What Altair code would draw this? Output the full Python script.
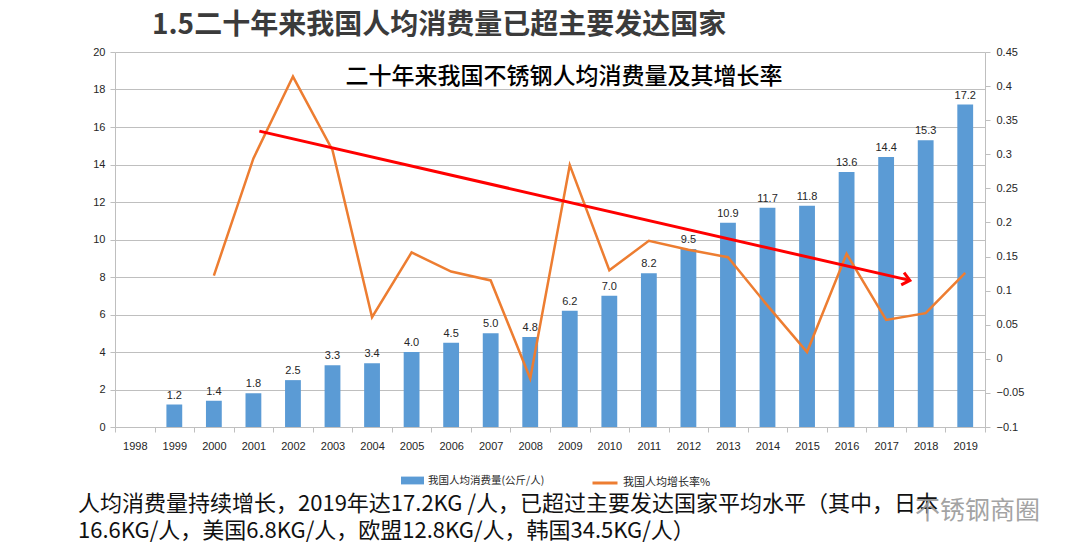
import altair as alt
import pandas as pd

# ---------------- data ----------------
years = [str(y) for y in range(1998, 2020)]
consumption_years = [str(y) for y in range(1999, 2020)]
consumption = [1.2, 1.4, 1.8, 2.5, 3.3, 3.4, 4.0, 4.5, 5.0, 4.8, 6.2, 7.0,
               8.2, 9.5, 10.9, 11.7, 11.8, 13.6, 14.4, 15.3, 17.2]
growth_years = [str(y) for y in range(2000, 2020)]
growth = [0.122, 0.294, 0.414, 0.306, 0.061, 0.156, 0.128, 0.115, -0.029, 0.284,
          0.130, 0.173, 0.160, 0.149, 0.078, 0.010, 0.154, 0.057, 0.067, 0.126]
trend_start = [2001.15, 0.334]
trend_end = [2017.6, 0.115]
left_ticks = [0, 2, 4, 6, 8, 10, 12, 14, 16, 18, 20]
right_ticks = [-0.1, -0.05, 0, 0.05, 0.1, 0.15, 0.2, 0.25, 0.3, 0.35, 0.4, 0.45]

series_bar = "我国人均消费量(公斤/人)"
series_line = "我国人均增长率%"
main_title = "1.5二十年来我国人均消费量已超主要发达国家"
chart_title = "二十年来我国不锈钢人均消费量及其增长率"
note_lines = ["人均消费量持续增长，2019年达17.2KG /人，已超过主要发达国家平均水平（其中，日本",
              "16.6KG/人，美国6.8KG/人，欧盟12.8KG/人，韩国34.5KG/人）"]
watermark = "不锈钢商圈"

W, H = 870, 375
AX = "#bfbfbf"
LBL = "#262626"
FONT = "Liberation Sans"
CJK = "Noto Sans CJK SC"

df_c = pd.DataFrame({"year": consumption_years, "value": consumption, "series": series_bar})
df_g = pd.DataFrame({"year": growth_years, "rate": growth, "series": series_line})
df_t = pd.DataFrame({"x": [trend_start[0]], "y": [trend_start[1]],
                     "x2": [trend_end[0]], "y2": [trend_end[1]]})

xband = alt.Scale(type="band", domain=years, paddingInner=0, paddingOuter=0)
yleft = alt.Scale(domain=[0, 20], nice=False, zero=False)
yright = alt.Scale(domain=[-0.1, 0.45], nice=False, zero=False)
xq = alt.Scale(domain=[1997.5, 2019.5], nice=False, zero=False)

x_axis = alt.Axis(title=None, labelAngle=0, tickBand="extent", tickSize=5, tickColor=AX,
                  domainColor=AX, labelFont=FONT, labelFontSize=11, labelColor=LBL,
                  labelPadding=8, grid=False)
yl_axis = alt.Axis(title=None, values=left_ticks, grid=True, gridColor=AX, tickColor=AX,
                   tickSize=5, domainColor=AX, labelFont=FONT, labelFontSize=11,
                   labelColor=LBL, labelPadding=5)
yr_axis = alt.Axis(title=None, orient="right", values=right_ticks, grid=False,
                   labelExpr="format(datum.value, '.2~f')", tickColor=AX, tickSize=5,
                   domainColor=AX, labelFont=FONT, labelFontSize=11, labelColor=LBL,
                   labelPadding=6)

bars = alt.Chart(df_c).mark_bar(width=alt.RelativeBandSize(0.4)).encode(
    x=alt.X("year:O", scale=xband, axis=x_axis),
    y=alt.Y("value:Q", scale=yleft, axis=yl_axis),
    color=alt.Color("series:N",
                    scale=alt.Scale(domain=[series_bar], range=["#5b9bd5"]),
                    legend=alt.Legend(title=None, orient="none", legendX=286, legendY=417,
                                      symbolType="M-1,-0.34H1V0.34H-1Z", symbolSize=529,
                                      symbolStrokeWidth=0, labelFont=CJK, labelFontSize=10.5,
                                      labelColor=LBL, padding=0, labelOffset=4)),
)
bar_labels = alt.Chart(df_c).mark_text(baseline="bottom", dy=-4, font=FONT, fontSize=11,
                                       color=LBL).encode(
    x=alt.X("year:O", scale=xband, axis=x_axis, bandPosition=0.5),
    y=alt.Y("value:Q", scale=yleft, axis=yl_axis),
    text=alt.Text("value:Q", format=".1f"),
)
left = alt.layer(bars, bar_labels)

line = alt.Chart(df_g).mark_line(strokeWidth=2.5).encode(
    x=alt.X("year:O", scale=xband, axis=None, bandPosition=0.5),
    y=alt.Y("rate:Q", scale=yright, axis=yr_axis),
    color=alt.Color("series:N",
                    scale=alt.Scale(domain=[series_line], range=["#ed7d31"]),
                    legend=alt.Legend(title=None, orient="none", legendX=476, legendY=417,
                                      symbolType="stroke", symbolSize=625,
                                      symbolStrokeWidth=3, labelFont=CJK, labelFontSize=11,
                                      labelColor=LBL, padding=0, labelOffset=4)),
)

trend = alt.Chart(df_t).mark_rule(color="#ff0000", strokeWidth=3).encode(
    x=alt.X("x:Q", scale=xq, axis=None), x2="x2:Q",
    y=alt.Y("y:Q", scale=yright, axis=None), y2="y2:Q",
)
arrow_head = alt.Chart(df_t).mark_point(shape="M-1,-0.85L0,0L-1,0.85", filled=False,
                                        size=220, angle=13, color="#ff0000",
                                        strokeWidth=3, opacity=1).encode(
    x=alt.X("x2:Q", scale=xq, axis=None),
    y=alt.Y("y2:Q", scale=yright, axis=None),
)

def label(text, x, y, **kw):
    return alt.Chart(pd.DataFrame({"t": [text]})).mark_text(**kw).encode(
        x=alt.value(x), y=alt.value(y), text="t:N")

title_main = label(main_title, 37, -26, align="left", baseline="middle", font=CJK,
                   fontSize=28, fontWeight="bold", color="#3b3b3b")
title_chart = label(chart_title, 449, 25, align="center", baseline="middle", font=CJK,
                    fontSize=23, fontWeight=500, color="#000000")
note1 = label(note_lines[0], -37, 452, align="left", baseline="middle", font=CJK,
              fontSize=22, color="#111111")
note2 = label(note_lines[1], -37, 479, align="left", baseline="middle", font=CJK,
              fontSize=22, color="#111111")
wm = label(watermark, 800, 459, align="left", baseline="middle", font=CJK,
           fontSize=25, color="#9a9a9a", opacity=0.9)

chart = alt.layer(
    left, line, trend, arrow_head, title_main, title_chart, note1, note2, wm
).resolve_scale(
    x="independent", y="independent", color="independent"
).properties(
    width=W, height=H,
    padding={"left": 107, "top": 44, "right": 80, "bottom": 120},
    autosize=alt.AutoSizeParams(type="none"),
).configure_view(stroke=None)

chart.save("out.html", embed_options={"renderer": "svg", "actions": False})
